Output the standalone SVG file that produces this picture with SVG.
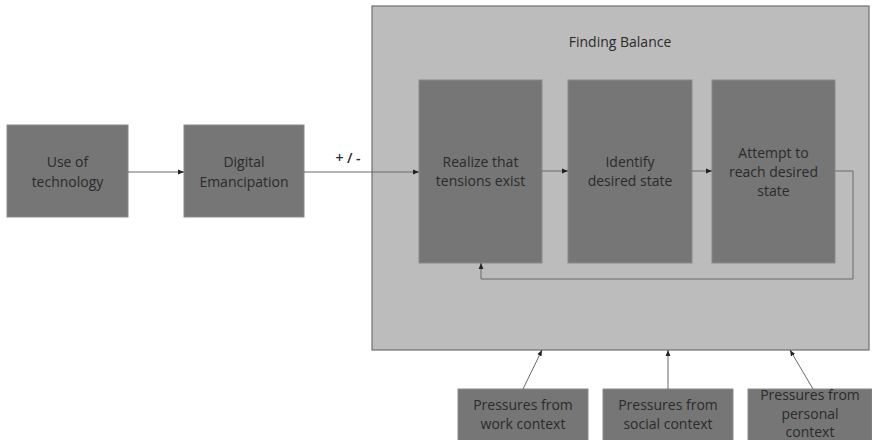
<svg xmlns="http://www.w3.org/2000/svg" width="872" height="440" viewBox="0 0 872 440">
  <style>
    .box { fill: #767676; stroke: #8a8a8a; stroke-width: 1; }
    .frame { fill: #bcbcbc; stroke: #6e6e6e; stroke-width: 1.2; }
    .lbl { font-family: "Open Sans", "Liberation Sans", Arial, sans-serif; font-size: 14px; fill: #2b2b2b; text-anchor: middle; }
    .edge { fill: none; stroke: #6a6a6a; stroke-width: 1; marker-end: url(#arr); }
  </style>
  <defs>
    <marker id="arr" viewBox="0 0 10 10" refX="10" refY="5" markerWidth="6" markerHeight="6" orient="auto" markerUnits="userSpaceOnUse">
      <path d="M0,1 L10,5 L0,9 z" fill="#222"/>
    </marker>
  </defs>
  <rect width="872" height="440" fill="#ffffff"/>

  <g id="finding-balance">
    <rect class="frame" x="372" y="6" width="497" height="344"/>
    <text class="lbl" x="620" y="47">Finding Balance</text>
  </g>

  <g id="use-of-technology">
    <rect class="box" x="7" y="125" width="121" height="92"/>
    <text class="lbl" x="67.5" y="167">Use of</text>
    <text class="lbl" x="67.5" y="187">technology</text>
  </g>

  <g id="digital-emancipation">
    <rect class="box" x="184" y="125" width="120" height="92"/>
    <text class="lbl" x="244" y="167">Digital</text>
    <text class="lbl" x="244" y="187">Emancipation</text>
  </g>

  <g id="realize-tensions">
    <rect class="box" x="419" y="80" width="123" height="183"/>
    <text class="lbl" x="480.5" y="167">Realize that</text>
    <text class="lbl" x="480.5" y="186">tensions exist</text>
  </g>

  <g id="identify-state">
    <rect class="box" x="568" y="80" width="124" height="183"/>
    <text class="lbl" x="630" y="167">Identify</text>
    <text class="lbl" x="630" y="186">desired state</text>
  </g>

  <g id="reach-state">
    <rect class="box" x="712" y="80" width="123" height="183"/>
    <text class="lbl" x="773.5" y="158">Attempt to</text>
    <text class="lbl" x="773.5" y="177">reach desired</text>
    <text class="lbl" x="773.5" y="196">state</text>
  </g>

  <g id="work-pressures">
    <rect class="box" x="458" y="389" width="130" height="55"/>
    <text class="lbl" x="523" y="410">Pressures from</text>
    <text class="lbl" x="523" y="429">work context</text>
  </g>

  <g id="social-pressures">
    <rect class="box" x="603" y="389" width="130" height="55"/>
    <text class="lbl" x="668" y="410">Pressures from</text>
    <text class="lbl" x="668" y="429">social context</text>
  </g>

  <g id="personal-pressures">
    <rect class="box" x="748" y="389" width="124" height="55"/>
    <text class="lbl" x="810" y="400">Pressures from</text>
    <text class="lbl" x="810" y="419">personal</text>
    <text class="lbl" x="810" y="437">context</text>
  </g>

  <g id="connectors">
    <line class="edge" x1="128" y1="172" x2="184" y2="172"/>
    <line class="edge" x1="304" y1="172" x2="419" y2="172"/>
    <text class="lbl" x="348" y="163" style="font-weight:600">+ / -</text>
    <line class="edge" x1="542" y1="171" x2="568" y2="171"/>
    <line class="edge" x1="692" y1="171" x2="712" y2="171"/>
    <polyline class="edge" points="835,171 853,171 853,279 481,279 481,263"/>
    <line class="edge" x1="523" y1="389" x2="542" y2="350"/>
    <line class="edge" x1="668" y1="389" x2="668" y2="350"/>
    <line class="edge" x1="813" y1="389" x2="790" y2="350"/>
  </g>
</svg>
